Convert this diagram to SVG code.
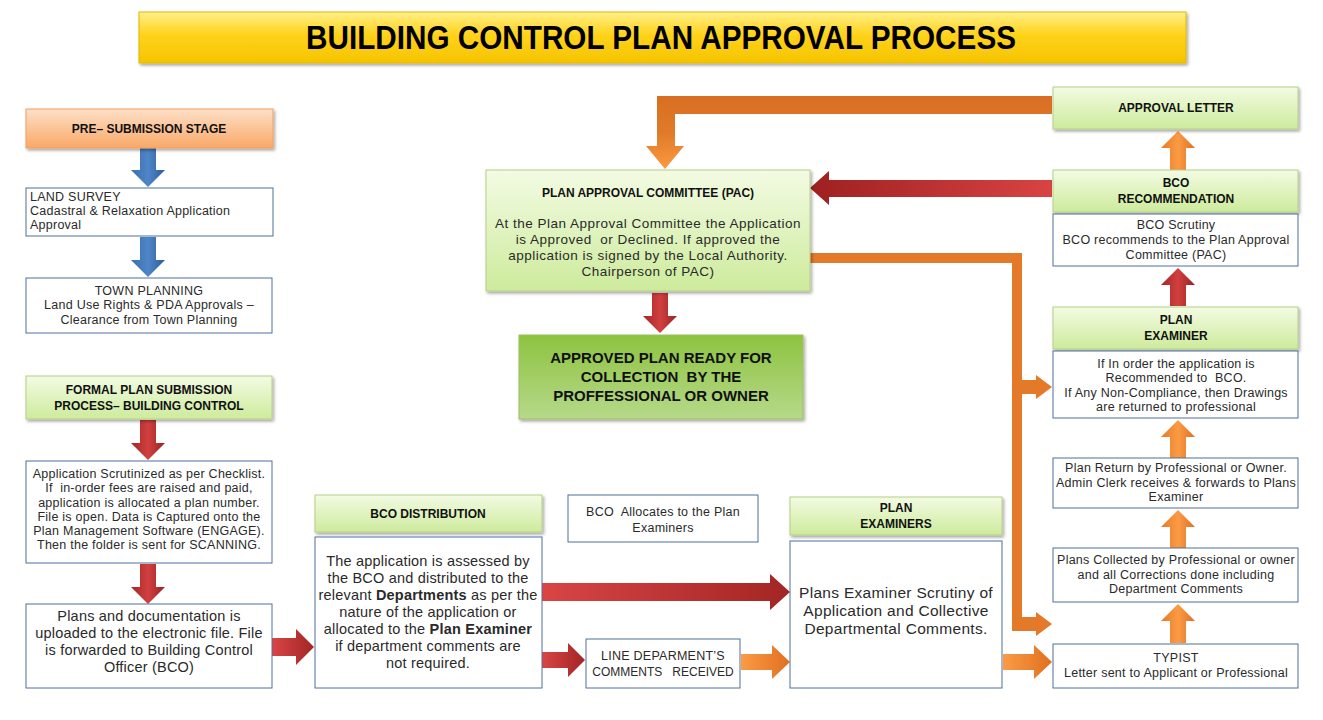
<svg xmlns="http://www.w3.org/2000/svg" width="1323" height="720" viewBox="0 0 1323 720">
<defs>
<linearGradient id="gTitle" x1="0" y1="0" x2="0" y2="1"><stop offset="0" stop-color="#fff089"/><stop offset="0.45" stop-color="#ffd21a"/><stop offset="1" stop-color="#f5c400"/></linearGradient>
<linearGradient id="gOrangeBox" x1="0" y1="0" x2="0" y2="1"><stop offset="0" stop-color="#fde0c8"/><stop offset="1" stop-color="#f9a867"/></linearGradient>
<linearGradient id="gGreen" x1="0" y1="0" x2="0" y2="1"><stop offset="0" stop-color="#f3fbe3"/><stop offset="1" stop-color="#cdeb9c"/></linearGradient>
<linearGradient id="gGreenDark" x1="0" y1="0" x2="0" y2="1"><stop offset="0" stop-color="#8dc340"/><stop offset="1" stop-color="#b6d98a"/></linearGradient>
<linearGradient id="gBlue" x1="0" y1="0" x2="1" y2="0"><stop offset="0" stop-color="#3a6db0"/><stop offset="0.5" stop-color="#4f86c8"/><stop offset="1" stop-color="#2c5c9c"/></linearGradient>
<linearGradient id="gRedV" x1="0" y1="0" x2="1" y2="0"><stop offset="0" stop-color="#a52525"/><stop offset="0.5" stop-color="#d14040"/><stop offset="1" stop-color="#9a2222"/></linearGradient>
<linearGradient id="gRedH" x1="0" y1="0" x2="1" y2="0"><stop offset="0" stop-color="#d94545"/><stop offset="1" stop-color="#a32525"/></linearGradient>
<linearGradient id="gRedHL" x1="0" y1="0" x2="1" y2="0"><stop offset="0" stop-color="#9e2020"/><stop offset="1" stop-color="#d94343"/></linearGradient>
<linearGradient id="gOrangeV" x1="0" y1="0" x2="1" y2="0"><stop offset="0" stop-color="#e57a25"/><stop offset="0.5" stop-color="#fb9b45"/><stop offset="1" stop-color="#e07020"/></linearGradient>
<linearGradient id="gOrangeH" x1="0" y1="0" x2="1" y2="0"><stop offset="0" stop-color="#fb9b45"/><stop offset="1" stop-color="#e0701f"/></linearGradient>
<linearGradient id="gOrangeTop" x1="0" y1="0" x2="0" y2="1"><stop offset="0" stop-color="#d96e22"/><stop offset="0.5" stop-color="#e07a28"/><stop offset="1" stop-color="#fb9a40"/></linearGradient>
<filter id="sh" x="-5%" y="-10%" width="112%" height="130%"><feDropShadow dx="1.5" dy="2" stdDeviation="1.5" flood-color="#000" flood-opacity="0.35"/></filter>
<style>
.box{fill:#fff;stroke:#4f6f9a;stroke-width:1}
.hdr{fill:url(#gGreen);stroke:#b5cf88;stroke-width:1;filter:url(#sh)}
.t{font-family:"Liberation Sans",Arial,sans-serif;fill:#2a2a2a;text-anchor:middle;white-space:pre}
.s{font-size:12.5px;letter-spacing:0.25px}
.m{font-size:14.5px;letter-spacing:0.2px}
.p{font-size:13.5px;letter-spacing:0.5px}
.x{font-size:15.5px;letter-spacing:0.3px}
.b{font-weight:bold;font-size:12px;fill:#111}
.l{text-anchor:start}
</style>
</defs>
<rect width="1323" height="720" fill="#fff"/>

<g id="title">
<rect x="139" y="12" width="1047" height="51" fill="url(#gTitle)" stroke="#e0b800" filter="url(#sh)"/>
<text x="661" y="49" class="t" style="font-size:33px;font-weight:bold;fill:#000" textLength="710" lengthAdjust="spacingAndGlyphs">BUILDING CONTROL PLAN APPROVAL PROCESS</text>
</g>

<g id="connectors">
<path d="M140,148 H156 V170 H165 L148,187 L131,170 H140 Z" fill="url(#gBlue)"/>
<path d="M140,237 H156 V260 H165 L148,277 L131,260 H140 Z" fill="url(#gBlue)"/>
<path d="M140,420 H156 V443 H165 L148,460 L131,443 H140 Z" fill="url(#gRedV)"/>
<path d="M140,564 H156 V587 H165 L148,604 L131,587 H140 Z" fill="url(#gRedV)"/>
<path d="M272,638 H296 V629 L314,647 L296,665 V656 H272 Z" fill="url(#gRedH)"/>
<path d="M542,583 H770 V574 L790,592 L770,610 V601 H542 Z" fill="url(#gRedH)"/>
<path d="M542,652 H568 V643 L585,660 L568,677 V668 H542 Z" fill="url(#gRedH)"/>
<path d="M741,654 H772 V645 L790,662 L772,679 V670 H741 Z" fill="url(#gOrangeH)"/>
<path d="M1003,654 H1034 V645 L1052,662 L1034,679 V670 H1003 Z" fill="url(#gOrangeH)"/>
<path d="M652,293 H668 V316 H677 L660,333 L643,316 H652 Z" fill="url(#gRedV)"/>
<path d="M1052,96 V114 H675 V146 H684 L665,169 L646,146 H657 V96 Z" fill="url(#gOrangeTop)"/>
<path d="M1052,180 V197 H829 V205 L810,188 L829,171 V180 Z" fill="url(#gRedHL)"/>
<path d="M810,253 H1022 V380 H1036 V375 L1052,387 L1036,399 V394 H1022 V617 H1036 V612 L1052,624 L1036,636 V631 H1012 V263 H810 Z" fill="#e4792a"/>
<path d="M1170,170 H1186 V148 H1195 L1178,131 L1161,148 H1170 Z" fill="url(#gOrangeV)"/>
<path d="M1170,306 H1186 V285 H1195 L1178,268 L1161,285 H1170 Z" fill="url(#gRedV)"/>
<path d="M1170,458 H1186 V437 H1195 L1178,420 L1161,437 H1170 Z" fill="url(#gOrangeV)"/>
<path d="M1170,548 H1186 V527 H1195 L1178,510 L1161,527 H1170 Z" fill="url(#gOrangeV)"/>
<path d="M1170,643 H1186 V621 H1195 L1178,604 L1161,621 H1170 Z" fill="url(#gOrangeV)"/>
</g>

<g id="pre-submission">
<rect x="26" y="109" width="247" height="39" fill="url(#gOrangeBox)" stroke="#f0a060" filter="url(#sh)"/>
<text x="149" y="133" class="t b">PRE– SUBMISSION STAGE</text>
</g>
<g id="land-survey">
<rect x="26" y="188" width="247" height="48" class="box"/>
<text class="t s l" x="30" y="201">LAND SURVEY</text>
<text class="t s l" x="30" y="215">Cadastral &amp; Relaxation Application</text>
<text class="t s l" x="30" y="229">Approval</text>
</g>
<g id="town-planning">
<rect x="26" y="278" width="246" height="55" class="box"/>
<text class="t s" x="149" y="295">TOWN PLANNING</text>
<text class="t s" x="149" y="309">Land Use Rights &amp; PDA Approvals –</text>
<text class="t s" x="149" y="324">Clearance from Town Planning</text>
</g>
<g id="formal-submission">
<rect x="26" y="376" width="246" height="43" class="hdr"/>
<text class="t b" x="149" y="394">FORMAL PLAN SUBMISSION</text>
<text class="t b" x="149" y="410">PROCESS– BUILDING CONTROL</text>
</g>
<g id="scrutinized">
<rect x="26" y="461" width="246" height="102" class="box"/>
<text class="t s" x="149" y="478">Application Scrutinized as per Checklist.</text>
<text class="t s" x="149" y="492" xml:space="preserve">If  in-order fees are raised and paid,</text>
<text class="t s" x="149" y="507">application is allocated a plan number.</text>
<text class="t s" x="149" y="521">File is open. Data is Captured onto the</text>
<text class="t s" x="149" y="535">Plan Management Software (ENGAGE).</text>
<text class="t s" x="149" y="549">Then the folder is sent for SCANNING.</text>
</g>
<g id="uploaded">
<rect x="26" y="604" width="246" height="84" class="box"/>
<text class="t m" x="149" y="621">Plans and documentation is</text>
<text class="t m" x="149" y="638">uploaded to the electronic file. File</text>
<text class="t m" x="149" y="655">is forwarded to Building Control</text>
<text class="t m" x="149" y="672">Officer (BCO)</text>
</g>

<g id="bco-distribution">
<rect x="315" y="495" width="227" height="37" class="hdr"/>
<text class="t b" x="428" y="518">BCO DISTRIBUTION</text>
<rect x="315" y="537" width="227" height="151" class="box"/>
<text class="t m" x="428" y="566">The application is assessed by</text>
<text class="t m" x="428" y="583">the BCO and distributed to the</text>
<text class="t m" x="428" y="600">relevant <tspan font-weight="bold">Departments</tspan> as per the</text>
<text class="t m" x="428" y="617">nature of the application or</text>
<text class="t m" x="428" y="634">allocated to the <tspan font-weight="bold">Plan Examiner</tspan></text>
<text class="t m" x="428" y="651">if department comments are</text>
<text class="t m" x="428" y="668">not required.</text>
</g>
<g id="bco-allocates">
<rect x="568" y="495" width="190" height="47" class="box"/>
<text class="t s" x="663" y="516" xml:space="preserve">BCO  Allocates to the Plan</text>
<text class="t s" x="663" y="532">Examiners</text>
</g>
<g id="line-dept">
<rect x="586" y="639" width="154" height="49" class="box"/>
<text class="t s" x="663" y="660">LINE DEPARMENT’S</text>
<text class="t" style="font-size:12px" x="663" y="676" xml:space="preserve">COMMENTS   RECEIVED</text>
</g>
<g id="plan-examiners">
<rect x="790" y="497" width="212" height="38" class="hdr"/>
<text class="t b" x="896" y="512">PLAN</text>
<text class="t b" x="896" y="528">EXAMINERS</text>
<rect x="790" y="541" width="212" height="147" class="box"/>
<text class="t x" x="896" y="598">Plans Examiner Scrutiny of</text>
<text class="t x" x="896" y="616">Application and Collective</text>
<text class="t x" x="896" y="634">Departmental Comments.</text>
</g>

<g id="pac">
<rect x="486" y="170" width="324" height="121" class="hdr"/>
<text class="t b" x="648" y="197">PLAN APPROVAL COMMITTEE (PAC)</text>
<text class="t p" x="648" y="228">At the Plan Approval Committee the Application</text>
<text class="t p" x="648" y="244" xml:space="preserve">is Approved  or Declined. If approved the</text>
<text class="t p" x="648" y="260">application is signed by the Local Authority.</text>
<text class="t p" x="648" y="276">Chairperson of PAC)</text>
</g>
<g id="approved-plan">
<rect x="519" y="335" width="284" height="84" fill="url(#gGreenDark)" stroke="#9cc060" filter="url(#sh)"/>
<text class="t" style="font-size:15px;font-weight:bold;fill:#111" x="661" y="363">APPROVED PLAN READY FOR</text>
<text class="t" style="font-size:15px;font-weight:bold;fill:#111" x="661" y="382" xml:space="preserve">COLLECTION  BY THE</text>
<text class="t" style="font-size:15px;font-weight:bold;fill:#111" x="661" y="401">PROFFESSIONAL OR OWNER</text>
</g>

<g id="approval-letter">
<rect x="1053" y="87" width="245" height="42" class="hdr"/>
<text class="t b" x="1176" y="112">APPROVAL LETTER</text>
</g>
<g id="bco-recommendation">
<rect x="1053" y="170" width="245" height="42" class="hdr"/>
<text class="t b" x="1176" y="187">BCO</text>
<text class="t b" x="1176" y="203">RECOMMENDATION</text>
<rect x="1053" y="214" width="245" height="52" class="box"/>
<text class="t s" x="1176" y="229">BCO Scrutiny</text>
<text class="t s" x="1176" y="244">BCO recommends to the Plan Approval</text>
<text class="t s" x="1176" y="259">Committee (PAC)</text>
</g>
<g id="plan-examiner">
<rect x="1053" y="307" width="245" height="42" class="hdr"/>
<text class="t b" x="1176" y="324">PLAN</text>
<text class="t b" x="1176" y="340">EXAMINER</text>
<rect x="1053" y="351" width="245" height="67" class="box"/>
<text class="t s" x="1176" y="368">If In order the application is</text>
<text class="t s" x="1176" y="382" xml:space="preserve">Recommended to  BCO.</text>
<text class="t s" x="1176" y="397">If Any Non-Compliance, then Drawings</text>
<text class="t s" x="1176" y="411">are returned to professional</text>
</g>
<g id="plan-return">
<rect x="1053" y="458" width="245" height="50" class="box"/>
<text class="t s" x="1176" y="472">Plan Return by Professional or Owner.</text>
<text class="t s" x="1176" y="487">Admin Clerk receives &amp; forwards to Plans</text>
<text class="t s" x="1176" y="501">Examiner</text>
</g>
<g id="plans-collected">
<rect x="1053" y="548" width="245" height="54" class="box"/>
<text class="t s" x="1176" y="564">Plans Collected by Professional or owner</text>
<text class="t s" x="1176" y="579">and all Corrections done including</text>
<text class="t s" x="1176" y="593">Department Comments</text>
</g>
<g id="typist">
<rect x="1053" y="644" width="245" height="44" class="box"/>
<text class="t s" x="1176" y="662">TYPIST</text>
<text class="t s" x="1176" y="677">Letter sent to Applicant or Professional</text>
</g>
</svg>
